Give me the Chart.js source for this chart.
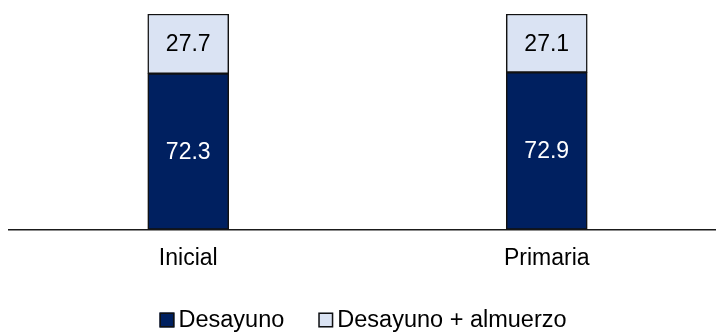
<!DOCTYPE html>
<html>
<head>
<meta charset="utf-8">
<script src="https://cdn.jsdelivr.net/npm/chart.js@4/dist/chart.umd.min.js"></script>
<style>
  html, body { margin: 0; padding: 0; background: #fff; overflow: hidden; }
  #wrap { width: 726px; height: 332px; position: relative; }
</style>
</head>
<body>
<div id="wrap"><canvas id="chart"></canvas></div>
<script>
// School levels and the share of each meal service (%)
const categories = ['Inicial', 'Primaria'];
const desayuno = [72.3, 72.9];
const desayunoAlmuerzo = [27.7, 27.1];
const seriesNames = ['Desayuno', 'Desayuno + almuerzo'];

const FONT = '"Liberation Sans", Arial, sans-serif';
const FONT_SIZE = 23;
const LEGEND_FONT_SIZE = 23.5;
const NAVY = '#002060';
const LIGHT = '#DAE3F3';
const EDGE = '#111111';

// Value written in the middle of every stacked segment
const segmentLabels = {
  id: 'segmentLabels',
  afterDatasetsDraw(chart) {
    const ctx = chart.ctx;
    ctx.save();
    ctx.font = FONT_SIZE + 'px ' + FONT;
    ctx.textAlign = 'center';
    ctx.textBaseline = 'middle';
    chart.data.datasets.forEach((ds, i) => {
      const meta = chart.getDatasetMeta(i);
      meta.data.forEach((bar, j) => {
        const p = bar.getProps(['x', 'y', 'base'], true);
        ctx.fillStyle = ds.labelColor;
        ctx.fillText(ds.data[j].toFixed(1), p.x, (p.y + p.base) / 2 + 1);
      });
    });
    ctx.restore();
  }
};

// Compact legend row with outlined square swatches
const bottomLegend = {
  id: 'bottomLegend',
  afterDraw(chart) {
    const ctx = chart.ctx;
    const box = 15, gapText = 4, gapItem = 34;
    const y = 320;
    ctx.save();
    ctx.font = LEGEND_FONT_SIZE + 'px ' + FONT;
    ctx.textBaseline = 'middle';
    ctx.textAlign = 'left';
    const items = chart.data.datasets.map(ds => ({
      label: ds.label, color: ds.backgroundColor,
      w: ctx.measureText(ds.label).width
    }));
    let total = 0;
    items.forEach((it, k) => {
      total += box + gapText + it.w + (k < items.length - 1 ? gapItem : 0);
    });
    let x = chart.width / 2 - total / 2;
    items.forEach(it => {
      ctx.fillStyle = it.color;
      ctx.fillRect(x, y - box / 2, box, box);
      ctx.strokeStyle = EDGE;
      ctx.lineWidth = 1.5;
      ctx.strokeRect(x + 0.75, y - box / 2 + 0.75, box - 1.5, box - 1.5);
      ctx.fillStyle = '#000';
      ctx.fillText(it.label, x + box + gapText, y + 1);
      x += box + gapText + it.w + gapItem;
    });
    ctx.restore();
  }
};

new Chart(document.getElementById('chart'), {
  type: 'bar',
  data: {
    labels: categories,
    datasets: [
      {
        label: seriesNames[0],
        data: desayuno,
        backgroundColor: NAVY,
        borderColor: EDGE,
        borderWidth: 1.5,
        borderSkipped: false,
        labelColor: '#ffffff'
      },
      {
        label: seriesNames[1],
        data: desayunoAlmuerzo,
        backgroundColor: LIGHT,
        borderColor: EDGE,
        borderWidth: 1.5,
        borderSkipped: false,
        labelColor: '#000000'
      }
    ]
  },
  options: {
    responsive: true,
    maintainAspectRatio: false,
    animation: false,
    events: [],
    layout: { padding: { top: 14, left: 9, right: 0, bottom: 45 } },
    datasets: { bar: { barThickness: 81 } },
    plugins: {
      legend: { display: false },
      tooltip: { enabled: false }
    },
    scales: {
      x: {
        stacked: true,
        grid: { display: false, drawTicks: false },
        border: { display: true, color: '#1a1a1a', width: 1.6 },
        ticks: {
          padding: 15,
          color: '#000',
          font: { family: FONT, size: FONT_SIZE }
        }
      },
      y: {
        stacked: true,
        display: false,
        min: 0,
        max: 100
      }
    }
  },
  plugins: [segmentLabels, bottomLegend]
});
</script>
</body>
</html>
